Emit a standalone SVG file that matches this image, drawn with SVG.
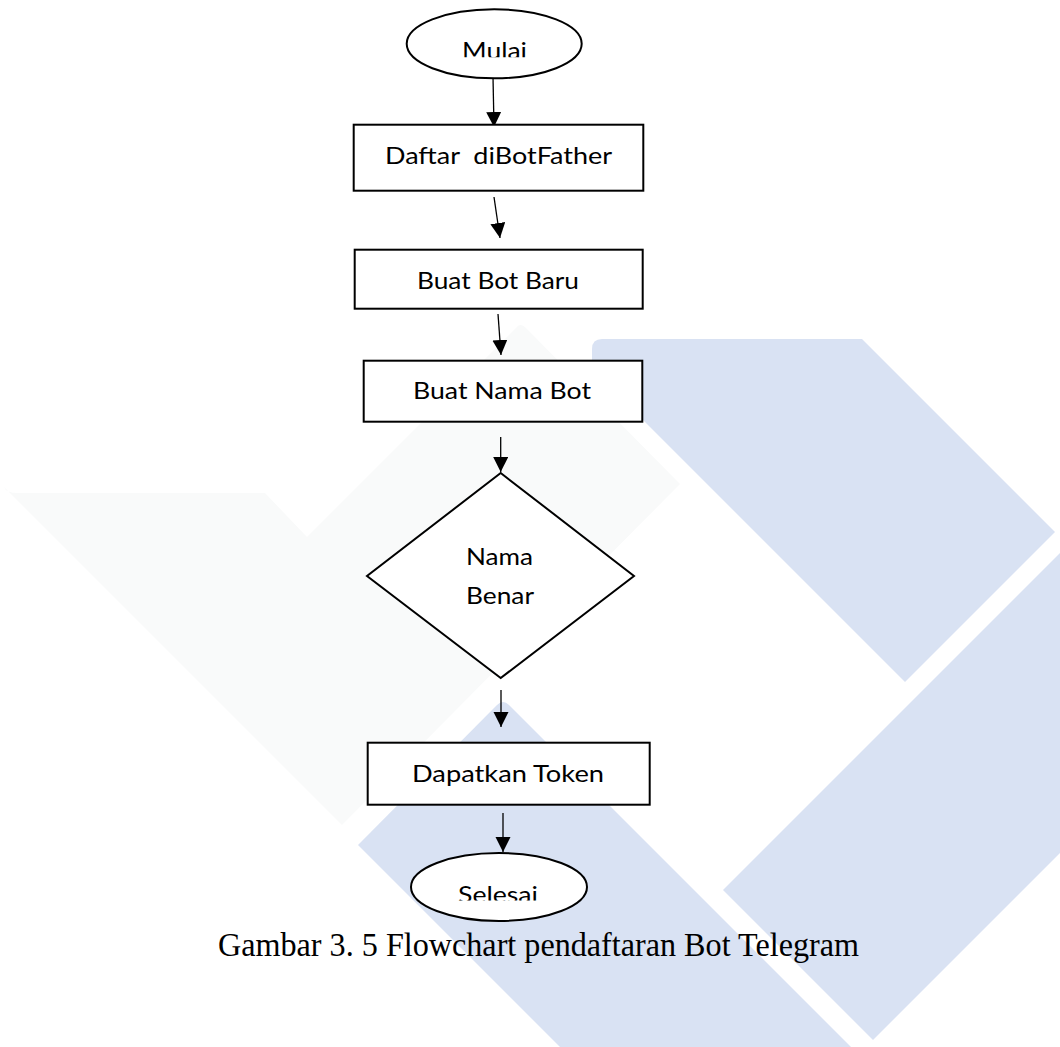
<svg xmlns="http://www.w3.org/2000/svg" width="1060" height="1047" viewBox="0 0 1060 1047">
  <style>
    .wm-blue { fill: #d9e2f3; }
    .wm-gray { fill: #f9fafa; }
    .shape { fill: #ffffff; stroke: #000000; stroke-width: 2; }
    .lbl { font-family: Lato, "Open Sans", "Liberation Sans", sans-serif; font-size: 24px; fill: #000000; }
    .conn { stroke: #000000; stroke-width: 1.3; fill: none; marker-end: url(#arrow); }
    .caption { font-family: "Liberation Serif", "Times New Roman", serif; font-size: 33px; fill: #000000; }
  </style>
  <defs>
    <marker id="arrow" markerUnits="userSpaceOnUse" markerWidth="17" markerHeight="17" refX="15" refY="7.5" orient="auto">
      <path d="M0,0 L15,7.5 L0,15 Z" fill="#000000"/>
    </marker>
    <clipPath id="clipMulai"><rect x="400" y="0" width="200" height="57.3"/></clipPath>
    <clipPath id="clipSelesai"><rect x="400" y="850" width="200" height="50.6"/></clipPath>
  </defs>
  <rect width="1060" height="1047" fill="#ffffff"/>

  <g id="watermark">
    <path class="wm-gray" d="M18,493 L265,493 L307,537 L516,328 Q520,322 526,328 L680,484 L342,825 L4,487 Q6,493 18,493 Z"/>
    <path class="wm-blue" d="M602,339 L862,339 L1055,532 L905,682 L592,369 L592,349 Q592,339 602,339 Z"/>
    <path class="wm-blue" d="M1060,553 L723,890 L873,1040 L1060,853 Z"/>
    <path class="wm-blue" d="M497,705 Q503,699 509,705 L851,1047 L560,1047 L358,845 Z"/>
  </g>

  <g id="connectors">
    <line class="conn" x1="493" y1="77" x2="494" y2="127"/>
    <line class="conn" x1="494" y1="197" x2="500" y2="238"/>
    <line class="conn" x1="498" y1="314" x2="501" y2="355"/>
    <line class="conn" x1="500.7" y1="437" x2="500.7" y2="472"/>
    <line class="conn" x1="501" y1="690" x2="501" y2="727"/>
    <line class="conn" x1="503" y1="813" x2="503" y2="852"/>
  </g>

  <g id="node-mulai">
    <ellipse class="shape" cx="494.2" cy="43.8" rx="87.5" ry="34.5"/>
    <text class="lbl" x="462" y="59" textLength="65" lengthAdjust="spacingAndGlyphs" clip-path="url(#clipMulai)">Mulai</text>
  </g>

  <g id="node-daftar">
    <rect class="shape" x="353.7" y="124.7" width="289.6" height="66"/>
    <text class="lbl" x="385" y="163.5" textLength="227" lengthAdjust="spacingAndGlyphs" xml:space="preserve">Daftar  diBotFather</text>
  </g>

  <g id="node-buat-bot">
    <rect class="shape" x="354.7" y="249.7" width="288" height="59"/>
    <text class="lbl" x="417" y="289" textLength="162" lengthAdjust="spacingAndGlyphs">Buat Bot Baru</text>
  </g>

  <g id="node-buat-nama">
    <rect class="shape" x="363.7" y="360.7" width="278.6" height="61"/>
    <text class="lbl" x="413" y="398.5" textLength="178" lengthAdjust="spacingAndGlyphs">Buat Nama Bot</text>
  </g>

  <g id="node-nama-benar">
    <polygon class="shape" points="500.7,473 634,576 500.7,678 367,576" stroke-width="1.8"/>
    <text class="lbl" x="466" y="564.5" textLength="67" lengthAdjust="spacingAndGlyphs">Nama</text>
    <text class="lbl" x="466" y="603.5" textLength="68" lengthAdjust="spacingAndGlyphs">Benar</text>
  </g>

  <g id="node-token">
    <rect class="shape" x="367.7" y="742.7" width="282" height="62"/>
    <text class="lbl" x="412" y="781.5" textLength="192" lengthAdjust="spacingAndGlyphs">Dapatkan Token</text>
  </g>

  <g id="node-selesai">
    <ellipse class="shape" cx="499" cy="887" rx="88" ry="34"/>
    <text class="lbl" x="458" y="902.5" textLength="80" lengthAdjust="spacingAndGlyphs" clip-path="url(#clipSelesai)">Selesai</text>
  </g>

  <text class="caption" x="218" y="956" textLength="641" lengthAdjust="spacingAndGlyphs">Gambar 3. 5 Flowchart pendaftaran Bot Telegram</text>
</svg>
